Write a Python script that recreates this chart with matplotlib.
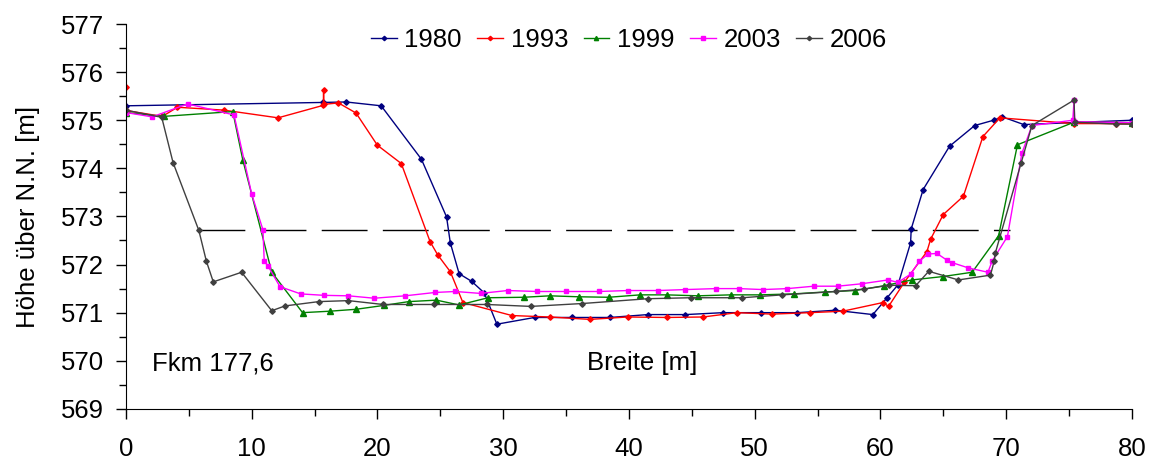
"""
Querprofil Fkm 177,6 - Sohlhöhen verschiedener Jahre
"""

import matplotlib
import matplotlib.pyplot as plt
from matplotlib.ticker import MultipleLocator

matplotlib.use("agg")

plt.rcParams["font.family"] = ["Liberation Sans", "DejaVu Sans"]
plt.rcParams["font.size"] = 18.5

# Messjahre
years = ["1980", "1993", "1999", "2003", "2006"]

x_1980 = [0, 15.7, 17.5, 20.3, 23.5, 25.5, 25.8, 26.5, 27.5, 28.5, 29.5, 32.5, 35.5, 38.5,
          41.5, 44.5, 47.5, 50.5, 53.4, 56.4, 59.4, 60.5, 61.4, 62.4, 62.45, 63.4, 65.5,
          67.5, 69.0, 69.7, 71.4, 80]
y_1980 = [575.30, 575.37, 575.38, 575.30, 574.19, 572.99, 572.45, 571.81, 571.65, 571.41,
          570.76, 570.90, 570.90, 570.90, 570.96, 570.96, 571.00, 571.00, 571.00, 571.05,
          570.96, 571.30, 571.58, 572.45, 572.74, 573.56, 574.46, 574.89, 575.00, 575.07,
          574.91, 575.00]

x_1993 = [0, 0.05, 2.9, 4.1, 7.8, 12.1, 15.7, 15.72, 15.74, 16.9, 18.3, 20.0, 21.9, 24.2,
          24.8, 25.8, 26.8, 30.7, 33.7, 36.9, 39.9, 43.0, 45.9, 48.6, 51.4, 54.4, 57.0,
          60.2, 60.65, 61.9, 63.7, 64.0, 65.0, 66.6, 68.15, 69.5, 75.4, 78.7, 80]
y_1993 = [575.70, 575.20, 575.08, 575.27, 575.21, 575.05, 575.31, 575.63, 575.33, 575.36,
          575.15, 574.48, 574.10, 572.47, 572.20, 571.85, 571.21, 570.94, 570.91, 570.86,
          570.91, 570.90, 570.91, 571.00, 570.97, 571.00, 571.03, 571.21, 571.13, 571.63,
          572.27, 572.53, 573.04, 573.42, 574.66, 575.05, 574.93, 574.93, 574.92]

x_1999 = [0, 3.0, 8.5, 9.3, 11.6, 14.05, 16.2, 18.3, 20.5, 22.5, 24.7, 26.5, 28.8, 31.65,
          33.7, 36.0, 38.4, 40.9, 43.0, 45.5, 48.1, 50.4, 53.1, 55.6, 58.0, 60.3, 62.5,
          64.95, 67.3, 69.4, 70.9, 75.4, 80]
y_1999 = [575.16, 575.08, 575.18, 574.17, 571.84, 571.00, 571.03, 571.07, 571.15, 571.23,
          571.26, 571.16, 571.31, 571.32, 571.35, 571.33, 571.32, 571.37, 571.37, 571.35,
          571.37, 571.37, 571.39, 571.43, 571.46, 571.56, 571.68, 571.75, 571.84, 572.60,
          574.49, 574.96, 574.95]

x_2003 = [0, 2.1, 4.9, 8.6, 10.0, 10.9, 11.0, 11.3, 12.25, 13.9, 15.75, 17.7, 19.75, 22.2,
          24.6, 26.2, 28.2, 30.35, 32.7, 35.0, 37.6, 39.95, 42.3, 44.5, 46.9, 48.75, 50.65,
          52.6, 54.7, 56.6, 58.5, 60.6, 61.4, 62.4, 63.1, 63.8, 64.5, 65.3, 65.7, 67.0,
          68.55, 68.9, 70.1, 71.25, 72.05, 75.3, 75.4, 75.45, 80]
y_2003 = [575.16, 575.07, 575.34, 575.11, 573.47, 572.72, 572.07, 571.97, 571.54, 571.39,
          571.36, 571.35, 571.30, 571.35, 571.42, 571.44, 571.40, 571.46, 571.44, 571.44,
          571.44, 571.46, 571.46, 571.48, 571.50, 571.50, 571.48, 571.50, 571.55, 571.55,
          571.60, 571.68, 571.63, 571.80, 572.07, 572.22, 572.23, 572.09, 572.04, 571.93,
          571.84, 572.08, 572.58, 574.31, 574.89, 575.00, 575.42, 574.97, 574.95]

x_2006 = [0, 2.85, 3.75, 5.8, 6.4, 6.95, 9.2, 11.6, 12.65, 15.35, 17.7, 20.45, 24.5, 28.7,
          32.2, 36.3, 41.5, 44.9, 49.0, 52.2, 56.5, 58.7, 60.7, 62.8, 63.85, 66.2, 68.75,
          69.05, 69.15, 71.2, 72.05, 75.4, 75.45, 78.7, 80]
y_2006 = [575.21, 575.06, 574.12, 572.71, 572.07, 571.64, 571.84, 571.04, 571.14, 571.23,
          571.25, 571.17, 571.17, 571.17, 571.13, 571.19, 571.29, 571.31, 571.31, 571.37,
          571.44, 571.49, 571.57, 571.56, 571.86, 571.68, 571.78, 572.07, 572.25, 574.12,
          574.89, 575.42, 574.96, 574.92, 574.92]

# Wasserspiegel (gestrichelt)
water_x = [5.8, 70.3]
water_y = [572.72, 572.72]

series = [
    (x_1980, y_1980, "#000080", "D", 2.8),
    (x_1993, y_1993, "#FF0000", "D", 2.8),
    (x_1999, y_1999, "#008000", "^", 3.8),
    (x_2003, y_2003, "#FF00FF", "s", 3.3),
    (x_2006, y_2006, "#404040", "D", 2.8),
]

fig = plt.figure(figsize=(11.55, 4.62), dpi=100)
ax = fig.add_axes([0.109, 0.115, 0.871, 0.833])

ax.plot(water_x, water_y, color="black", lw=1, linestyle=(0, (33, 11)))

for year, (xs, ys, color, marker, ms) in zip(years, series):
    ax.plot(xs, ys, color=color, marker=marker, markersize=ms, lw=1, label=year)

ax.set_xlim(0, 80)
ax.set_ylim(569, 577)
ax.xaxis.set_major_locator(MultipleLocator(10))
ax.xaxis.set_minor_locator(MultipleLocator(5))
ax.yaxis.set_major_locator(MultipleLocator(1))
ax.yaxis.set_minor_locator(MultipleLocator(0.5))
ax.tick_params(which="major", direction="out", length=7, width=1)
ax.tick_params(which="minor", direction="out", length=5, width=1)
ax.tick_params(axis="x", pad=13)
ax.tick_params(axis="y", pad=9)
ax.spines["top"].set_visible(False)
ax.spines["right"].set_visible(False)

ax.set_ylabel("Höhe über N.N. [m]")
ax.yaxis.set_label_coords(-0.085, 0.5)

ax.text(2.1, 569.95, "Fkm 177,6", va="center", ha="left")
ax.text(36.7, 569.95, "Breite [m]", va="center", ha="left")

ax.legend(loc="upper center", bbox_to_anchor=(0.5, 1.05), ncol=5, frameon=False,
          handlelength=1.0, handletextpad=0.3, columnspacing=0.6, markerscale=0.8)

fig.savefig("out.png", dpi=100)
